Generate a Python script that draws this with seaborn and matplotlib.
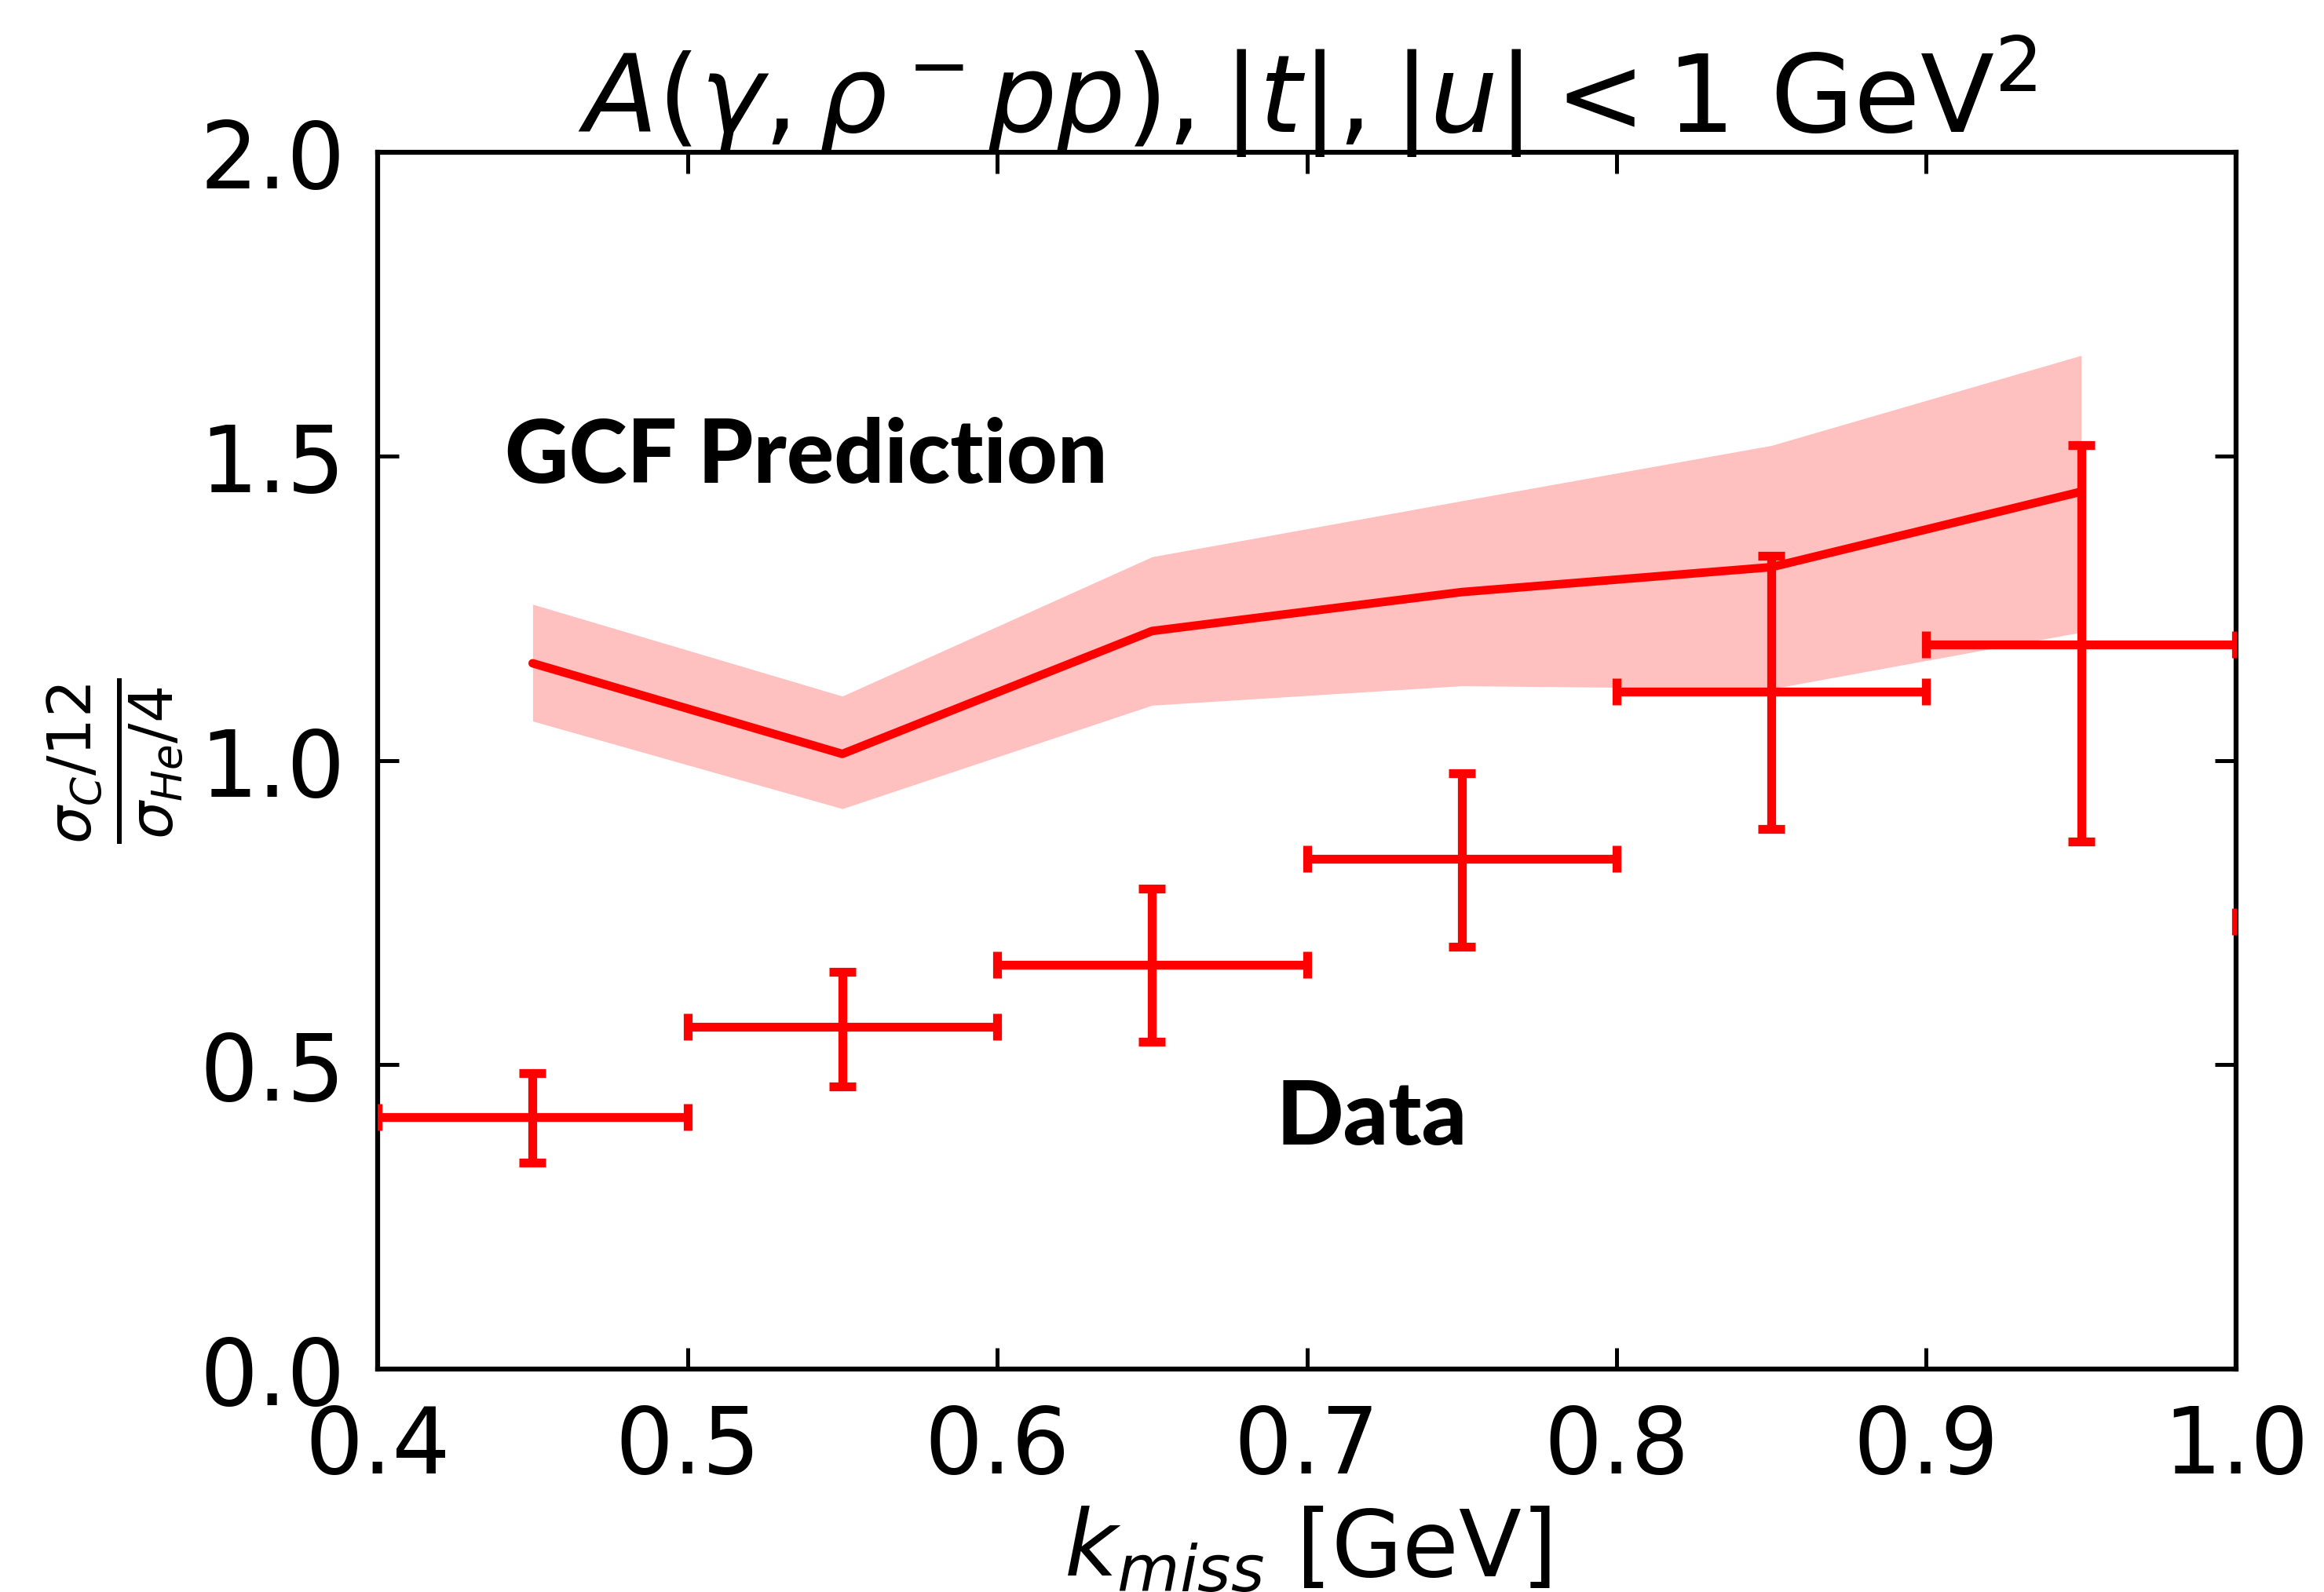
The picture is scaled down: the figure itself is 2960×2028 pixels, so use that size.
import numpy as np
import pandas as pd
import seaborn as sns
import matplotlib.pyplot as plt

# data points (measured ratio)
k_miss = [0.45, 0.55, 0.65, 0.75, 0.85, 0.95, 1.05]
ratio = [0.414, 0.563, 0.665, 0.838, 1.113, 1.191, 0.735]
ratio_lo = [0.339, 0.465, 0.538, 0.694, 0.887, 0.867, 0.60]
ratio_hi = [0.487, 0.653, 0.789, 0.979, 1.337, 1.518, 0.87]
bin_half = [0.05, 0.05, 0.05, 0.05, 0.05, 0.05, 0.05]

# GCF prediction
gcf_k = [0.45, 0.55, 0.65, 0.75, 0.85, 0.95]
gcf_mid = [1.160, 1.011, 1.213, 1.277, 1.318, 1.442]
gcf_lo = [1.065, 0.921, 1.091, 1.123, 1.118, 1.211]
gcf_hi = [1.257, 1.106, 1.335, 1.427, 1.518, 1.666]

sns.set_style('ticks')
plt.rcParams['font.family'] = ['DejaVu Sans']
plt.rcParams['mathtext.fontset'] = 'dejavusans'
for key in ['text.color', 'axes.labelcolor', 'xtick.color', 'ytick.color', 'axes.edgecolor']:
    plt.rcParams[key] = 'black'

fig = plt.figure(figsize=(9.87, 6.763), dpi=300)
ax = fig.add_axes([0.1625, 0.140, 0.7993, 0.764])

ax.fill_between(gcf_k, gcf_lo, gcf_hi, color='#ffc0c0', linewidth=0, zorder=1)
gcf = pd.DataFrame({'k': gcf_k, 'r': gcf_mid})
sns.lineplot(data=gcf, x='k', y='r', ax=ax, color='red', linewidth=2.6, zorder=2)

yerr = np.array([np.array(ratio) - np.array(ratio_lo), np.array(ratio_hi) - np.array(ratio)])
ax.errorbar(k_miss, ratio, xerr=bin_half, yerr=yerr, fmt='none', ecolor='red',
            elinewidth=2.7, capsize=4, capthick=2.7, zorder=3)

ax.text(0.441, 1.5, 'GCF Prediction', fontsize=27, fontweight='black', family='Lato',
        va='center', ha='left')
ax.text(0.69, 0.412, 'Data', fontsize=27, fontweight='black', family='Lato',
        va='center', ha='left')

ax.set_xlim(0.4, 1.0)
ax.set_ylim(0.0, 2.0)
ax.set_xticks([0.4, 0.5, 0.6, 0.7, 0.8, 0.9, 1.0])
ax.set_yticks([0.0, 0.5, 1.0, 1.5, 2.0])
ax.tick_params(direction='in', top=True, right=True, length=6.5, width=1.2,
               labelsize=28, pad=10)
for spine in ax.spines.values():
    spine.set_linewidth(1.5)

ax.set_xlabel(r'$k_{miss}$ [GeV]', fontsize=28)
ax.set_ylabel(r'$\frac{\sigma_C/12}{\sigma_{He}/4}$', fontsize=26)
ax.set_title(r'$A(\gamma,\rho^-pp),|t|,|u| < 1$ GeV$^2$', fontsize=33)

fig.savefig('out.png', dpi=300)
